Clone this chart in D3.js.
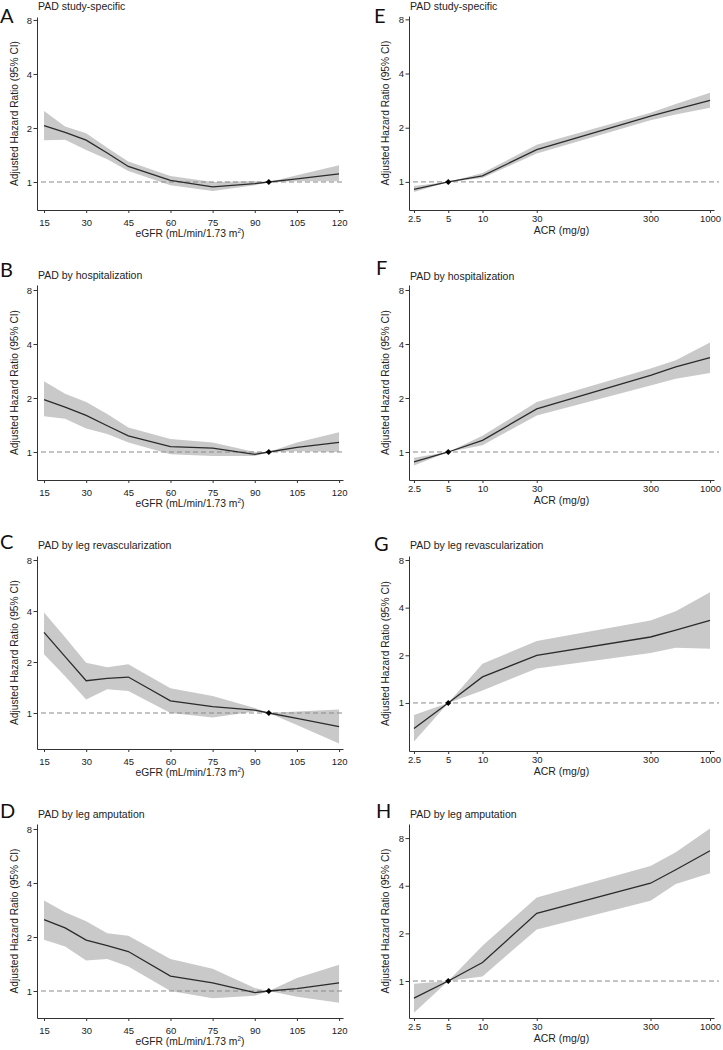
<!DOCTYPE html>
<html>
<head>
<meta charset="utf-8">
<style>
  body { margin: 0; background: #fff; }
  svg text { font-family: "Liberation Sans", Arial, sans-serif; fill: #222; }
  .letter { font-family: Lato, "Open Sans", sans-serif; font-size: 20px; fill: #111; }
</style>
</head>
<body>
<script src="https://cdnjs.cloudflare.com/ajax/libs/d3/7.8.5/d3.min.js"></script>
<svg id="chart" width="723" height="1050"></svg>
<script>
// ---- data ----
var egfr = [15, 22.5, 30, 37.5, 45, 60, 75, 90, 95, 105, 120];
var acr = [2.5, 5, 10, 30, 300, 500, 1000];

var egfrTicks = [15, 30, 45, 60, 75, 90, 105, 120];
var acrTicks = [2.5, 5, 10, 30, 300, 1000];
var hrTicks = [1, 2, 4, 8];

// A - study-specific (eGFR)
var aHr = [2.06, 1.89, 1.71, 1.45, 1.22, 1.02, 0.94, 0.98, 1, 1.04, 1.11];
var aLo = [1.71, 1.72, 1.51, 1.34, 1.15, 0.96, 0.89, 0.96, 1, 1.01, 1.01];
var aHi = [2.49, 2.04, 1.87, 1.55, 1.30, 1.08, 1.00, 1.01, 1, 1.09, 1.24];
// B - hospitalization (eGFR)
var bHr = [1.96, 1.78, 1.60, 1.40, 1.23, 1.07, 1.05, 0.97, 1, 1.06, 1.13];
var bLo = [1.58, 1.53, 1.35, 1.26, 1.13, 0.97, 0.95, 0.95, 1, 1.01, 1.00];
var bHi = [2.48, 2.11, 1.90, 1.63, 1.37, 1.18, 1.13, 1.00, 1, 1.13, 1.29];
// C - leg revascularization (eGFR)
var cHr = [2.99, 2.15, 1.55, 1.60, 1.63, 1.18, 1.09, 1.04, 1, 0.93, 0.83];
var cLo = [2.22, 1.65, 1.20, 1.38, 1.35, 1.00, 0.94, 1.02, 1, 0.85, 0.66];
var cHi = [3.92, 2.80, 1.98, 1.86, 1.94, 1.40, 1.26, 1.07, 1, 1.02, 1.05];
// D - leg amputation (eGFR)
var dHr = [2.50, 2.25, 1.92, 1.79, 1.66, 1.21, 1.11, 0.98, 1, 1.03, 1.11];
var dLo = [1.93, 1.77, 1.48, 1.51, 1.37, 1.00, 0.91, 0.94, 1, 0.93, 0.86];
var dHi = [3.20, 2.75, 2.45, 2.10, 2.03, 1.51, 1.33, 1.04, 1, 1.18, 1.40];

// E - study-specific (ACR)
var eHr = [0.91, 1, 1.08, 1.51, 2.32, 2.53, 2.84];
var eLo = [0.88, 1, 1.05, 1.44, 2.20, 2.37, 2.58];
var eHi = [0.95, 1, 1.12, 1.61, 2.42, 2.71, 3.13];
// F - hospitalization (ACR)
var fHr = [0.88, 1, 1.16, 1.74, 2.67, 2.98, 3.36];
var fLo = [0.84, 1, 1.09, 1.60, 2.35, 2.56, 2.76];
var fHi = [0.93, 1, 1.23, 1.90, 2.92, 3.25, 4.08];
// G - leg revascularization (ACR)
var gHr = [0.69, 1, 1.46, 2.00, 2.61, 2.88, 3.32];
var gLo = [0.57, 1, 1.20, 1.65, 2.07, 2.23, 2.20];
var gHi = [0.84, 1, 1.77, 2.46, 3.32, 3.80, 5.01];
// H - leg amputation (ACR)
var hHr = [0.78, 1, 1.31, 2.68, 4.15, 5.05, 6.65];
var hLo = [0.63, 1, 1.07, 2.12, 3.21, 4.10, 4.80];
var hHi = [0.96, 1, 1.67, 3.37, 5.34, 6.50, 9.21];

// ---- layout ----
var cols = {
  egfr: { x: egfr, ticks: egfrTicks, ref: 95, range: [37, 343], domain: [12.5, 121.4], log: false,
          titleDy: 27, tickPad: 6, yTitleX: 18 },
  acr:  { x: acr, ticks: acrTicks, ref: 5, range: [409, 714], domain: [2.26, 1084], log: true,
          titleDy: 24, tickPad: 2.5, yTitleX: 389 }
};

var panels = [
  { letter: "A", sub: "PAD study-specific", col: "egfr", hr: aHr, lo: aLo, hi: aHi, top: 17, bottom: 210, dom: [0.698, 8.31], lx: 0, ly: 23, sy: 10 },
  { letter: "B", sub: "PAD by hospitalization", col: "egfr", hr: bHr, lo: bLo, hi: bHi, top: 285, bottom: 480, dom: [0.698, 8.53], lx: 0, ly: 277, sy: 279 },
  { letter: "C", sub: "PAD by leg revascularization", col: "egfr", hr: cHr, lo: cLo, hi: cHi, top: 556, bottom: 749, dom: [0.613, 8.45], lx: 0, ly: 549, sy: 549 },
  { letter: "D", sub: "PAD by leg amputation", col: "egfr", hr: dHr, lo: dLo, hi: dHi, top: 824, bottom: 1018, dom: [0.707, 8.53], lx: 0, ly: 818, sy: 818 },
  { letter: "E", sub: "PAD study-specific", col: "acr", hr: eHr, lo: eLo, hi: eHi, top: 16, bottom: 210, dom: [0.698, 8.35], lx: 374, ly: 23, sy: 10 },
  { letter: "F", sub: "PAD by hospitalization", col: "acr", hr: fHr, lo: fLo, hi: fHi, top: 285, bottom: 480, dom: [0.698, 8.53], lx: 376, ly: 275, sy: 280 },
  { letter: "G", sub: "PAD by leg revascularization", col: "acr", hr: gHr, lo: gLo, hi: gHi, top: 556, bottom: 751, dom: [0.497, 8.48], lx: 374, ly: 551, sy: 549 },
  { letter: "H", sub: "PAD by leg amputation", col: "acr", hr: hHr, lo: hLo, hi: hHi, top: 824, bottom: 1018, dom: [0.584, 9.82], lx: 376, ly: 818, sy: 818 }
];

var svg = d3.select("#chart");

panels.forEach(function (p) {
  var c = cols[p.col];
  var x = (c.log ? d3.scaleLog().base(2) : d3.scaleLinear()).domain(c.domain).range(c.range);
  var y = d3.scaleLog().base(2).domain(p.dom).range([p.bottom, p.top]);
  var g = svg.append("g");

  var rows = c.x.map(function (v, i) { return { x: v, hr: p.hr[i], lo: p.lo[i], hi: p.hi[i] }; });

  // confidence band
  g.append("path")
    .datum(rows)
    .attr("fill", "#c9c9c9")
    .attr("stroke", "none")
    .attr("d", d3.area()
      .x(function (d) { return x(d.x); })
      .y0(function (d) { return y(d.lo); })
      .y1(function (d) { return y(d.hi); }));

  // reference line at HR = 1
  g.append("line")
    .attr("x1", c.range[0] + 4).attr("x2", c.range[1] + (p.col == "acr" ? 5 : 2))
    .attr("y1", y(1)).attr("y2", y(1))
    .attr("stroke", "#8a8a8a").attr("stroke-width", 1)
    .attr("stroke-dasharray", "5,3");

  // HR line
  g.append("path")
    .datum(rows)
    .attr("fill", "none")
    .attr("stroke", "#2b2b2b")
    .attr("stroke-width", 1.3)
    .attr("d", d3.line()
      .x(function (d) { return x(d.x); })
      .y(function (d) { return y(d.hr); }));

  // reference point
  g.append("path")
    .attr("d", d3.symbol().type(d3.symbolSquare).size(18))
    .attr("transform", "translate(" + x(c.ref) + "," + y(1) + ") rotate(45)")
    .attr("fill", "#000");

  // axes
  var ya = g.append("g")
    .attr("transform", "translate(" + c.range[0] + ",0)")
    .call(d3.axisLeft(y).tickValues(hrTicks).tickSize(3.5).tickSizeOuter(0).tickPadding(1.5)
      .tickFormat(d3.format("d")));
  var xa = g.append("g")
    .attr("transform", "translate(0," + p.bottom + ")")
    .call(d3.axisBottom(x).tickValues(c.ticks).tickSize(3).tickSizeOuter(0).tickPadding(c.tickPad)
      .tickFormat(function (d) { return d == 2.5 ? "2.5" : d3.format("d")(d); }));
  [ya, xa].forEach(function (a) {
    a.selectAll("path, line").attr("stroke", "#333");
    a.selectAll("text").style("font-size", "9.5px").attr("fill", "#222")
      .style("font-family", "'Liberation Sans', Arial, sans-serif");
  });

  // x-axis title
  var xt = g.append("text")
    .attr("x", (c.range[0] + c.range[1]) / 2)
    .attr("y", p.bottom + c.titleDy)
    .attr("text-anchor", "middle")
    .style("font-size", "10.3px");
  if (p.col == "egfr") {
    xt.append("tspan").text("eGFR (mL/min/1.73 m");
    xt.append("tspan").attr("dy", -4).style("font-size", "6.5px").text("2");
    xt.append("tspan").attr("dy", 4).text(")");
  } else {
    xt.style("font-size", "10.5px").text("ACR (mg/g)");
  }

  // y-axis title
  g.append("text")
    .attr("transform", "translate(" + c.yTitleX + "," + ((p.top + p.bottom) / 2) + ") rotate(-90)")
    .attr("text-anchor", "middle")
    .style("font-size", "10.2px")
    .text("Adjusted Hazard Ratio (95% CI)");

  // subtitle and panel letter
  g.append("text")
    .attr("x", c.range[0] + 1).attr("y", p.sy)
    .style("font-size", "10.5px")
    .text(p.sub);
  g.append("text")
    .attr("class", "letter")
    .attr("x", p.lx).attr("y", p.ly)
    .text(p.letter);
});
</script>
</body>
</html>
